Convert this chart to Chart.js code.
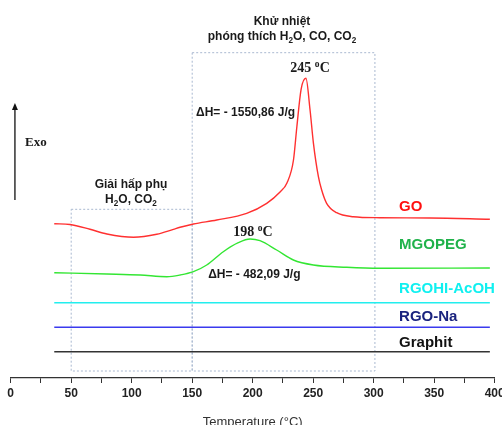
<!DOCTYPE html>
<html>
<head>
<meta charset="utf-8">
<script src="https://cdn.jsdelivr.net/npm/chart.js@4/dist/chart.umd.min.js"></script>
<style>
  html, body { margin: 0; padding: 0; background: #fff; }
  #wrap { width: 502px; height: 425px; position: relative; }
</style>
</head>
<body>
<div id="wrap"><canvas id="dsc"></canvas></div>
<script>
// --- Data (temperature in °C, signal in arbitrary offset units) ---
const goTemps = [36, 49, 65.5, 79.5, 101.5, 120.7, 134.5, 140, 151, 170.3, 195, 211.6, 222.6, 228.3, 233.7, 236.5, 240, 244, 247.4, 250.2, 254.3, 257, 261.1, 269.4, 283, 305, 346.5, 396];
const goValues = [154.3, 153.5, 148.7, 144, 140.7, 143.7, 148.7, 150.7, 154, 158, 164.7, 174.7, 186, 195, 218, 251.3, 288.7, 299.7, 268, 234.7, 201.3, 188, 174.7, 165.3, 161.3, 160.3, 160, 158.7];

const mgopegTemps = [36, 79.5, 107, 129, 140, 151, 162, 175.7, 188.1, 197.8, 206, 219.8, 233.6, 250.1, 277.7, 305, 396];
const mgopegValues = [105.3, 104, 103, 101.3, 103, 106.3, 113, 126.3, 135.3, 139, 137.3, 128, 118, 113, 110.7, 109.7, 110];

const flatTemps = [36, 396];
const rgohiValues = [75.3, 75.3];
const rgoNaValues = [50.7, 50.7];
const graphitValues = [26.3, 26.3];

const seriesNames = ['GO', 'MGOPEG', 'RGOHI-AcOH', 'RGO-Na', 'Graphit'];
const xTickStep = 25;

const SANS = '"Liberation Sans", Arial, sans-serif';
const SERIF = '"Liberation Serif", "Times New Roman", serif';

function toPoints(xs, ys) {
    return xs.map((x, i) => ({ x: x, y: ys[i] }));
}

// draw text made of parts (normal / sub / sup)
function drawRich(ctx, parts, x, y, size, family, align, color) {
    const fontFor = (p) => {
        const s = p.k ? size * 0.68 : size;
        return `bold ${s}px ${family}`;
    };
    let total = 0;
    parts.forEach(p => { ctx.font = fontFor(p); total += ctx.measureText(p.t).width; });
    let cx = align === 'center' ? x - total / 2 : x;
    ctx.fillStyle = color;
    ctx.textAlign = 'left';
    ctx.textBaseline = 'middle';
    parts.forEach(p => {
        ctx.font = fontFor(p);
        let dy = 0;
        if (p.k === 'sub') dy = size * 0.3;
        if (p.k === 'sup') dy = -size * 0.3;
        ctx.fillText(p.t, cx, y + dy);
        cx += ctx.measureText(p.t).width;
    });
}

// --- Annotations plugin: dotted boxes, texts, Exo arrow ---
const annotations = {
    id: 'annotations',
    beforeDatasetsDraw(chart) {
        const { ctx, scales: { x, y } } = chart;
        ctx.save();
        ctx.strokeStyle = '#a9b8d0';
        ctx.lineWidth = 1;
        ctx.setLineDash([2, 2]);
        const box = (t0, t1, v0, v1) => {
            const x0 = x.getPixelForValue(t0), x1 = x.getPixelForValue(t1);
            const y0 = y.getPixelForValue(v1), y1 = y.getPixelForValue(v0);
            ctx.strokeRect(x0, y0, x1 - x0, y1 - y0);
        };
        box(50, 150, 7, 168.7);
        box(150, 301, 7, 325.3);
        ctx.restore();
    },
    afterDraw(chart) {
        const { ctx, scales: { x, y } } = chart;
        const px = (t) => x.getPixelForValue(t);
        const py = (v) => y.getPixelForValue(v);
        ctx.save();
        const dark = '#1a1a1a';

        drawRich(ctx, [{ t: 'Khử nhiệt' }], px(224.2), py(356.3), 12, SANS, 'center', dark);
        drawRich(ctx, [{ t: 'phóng thích H' }, { t: '2', k: 'sub' }, { t: 'O, CO, CO' }, { t: '2', k: 'sub' }],
            px(224.2), py(341.3), 12, SANS, 'center', dark);
        drawRich(ctx, [{ t: '245 ' }, { t: 'o', k: 'sup' }, { t: 'C' }], px(247.4), py(309.7), 14, SERIF, 'center', dark);
        drawRich(ctx, [{ t: 'ΔH= - 1550,86 J/g' }], px(153.2), py(265), 12, SANS, 'left', dark);
        drawRich(ctx, [{ t: 'Giải hấp phụ' }], px(99.4), py(193), 12, SANS, 'center', dark);
        drawRich(ctx, [{ t: 'H' }, { t: '2', k: 'sub' }, { t: 'O, CO' }, { t: '2', k: 'sub' }], px(99.4), py(178), 12, SANS, 'center', dark);
        drawRich(ctx, [{ t: '198 ' }, { t: 'o', k: 'sup' }, { t: 'C' }], px(200.2), py(145.3), 14, SERIF, 'center', dark);
        drawRich(ctx, [{ t: 'ΔH= - 482,09 J/g' }], px(163.2), py(103), 12, SANS, 'left', dark);
        drawRich(ctx, [{ t: 'Exo' }], px(11.8), py(235), 13, SERIF, 'left', dark);

        // series labels
        const labelColors = ['#ff1010', '#1fb24a', '#10f0f0', '#1a237e', '#111111'];
        const labelValues = [171, 133, 89, 61.3, 35.3];
        seriesNames.forEach((name, i) => {
            drawRich(ctx, [{ t: name }], px(321), py(labelValues[i]), 15, SANS, 'left', labelColors[i]);
        });

        // Exo arrow
        const ax = px(3.5), yb = py(178), yt = py(275);
        ctx.strokeStyle = '#111';
        ctx.fillStyle = '#111';
        ctx.lineWidth = 1.3;
        ctx.beginPath();
        ctx.moveTo(ax, yb);
        ctx.lineTo(ax, yt + 4);
        ctx.stroke();
        ctx.beginPath();
        ctx.moveTo(ax, yt);
        ctx.lineTo(ax - 3, yt + 7);
        ctx.lineTo(ax + 3, yt + 7);
        ctx.closePath();
        ctx.fill();
        ctx.restore();
    }
};

const lineStyle = {
    borderWidth: 1.4,
    pointRadius: 0,
    fill: false,
    tension: 0.4,
    cubicInterpolationMode: 'monotone'
};

new Chart(document.getElementById('dsc').getContext('2d'), {
    type: 'line',
    data: {
        datasets: [
            { label: seriesNames[0], data: toPoints(goTemps, goValues), borderColor: '#ff3030', ...lineStyle },
            { label: seriesNames[1], data: toPoints(mgopegTemps, mgopegValues), borderColor: '#33e633', ...lineStyle },
            { label: seriesNames[2], data: toPoints(flatTemps, rgohiValues), borderColor: '#22eeee', ...lineStyle },
            { label: seriesNames[3], data: toPoints(flatTemps, rgoNaValues), borderColor: '#3a3aee', ...lineStyle },
            { label: seriesNames[4], data: toPoints(flatTemps, graphitValues), borderColor: '#333333', ...lineStyle }
        ]
    },
    options: {
        responsive: true,
        maintainAspectRatio: false,
        animation: false,
        layout: { padding: { left: 10.7, right: 7.3, top: 28, bottom: -5 } },
        scales: {
            x: {
                type: 'linear',
                min: 0,
                max: 400,
                afterFit: (scale) => { scale.paddingLeft = 0; scale.paddingRight = 0; },
                ticks: {
                    stepSize: xTickStep,
                    autoSkip: false,
                    maxRotation: 0,
                    padding: 3,
                    color: '#222',
                    font: { family: SANS, size: 12, weight: 'bold' },
                    callback: (v) => (v % 50 === 0 ? v : '')
                },
                grid: { drawOnChartArea: false, tickLength: 5, color: '#333' },
                border: { color: '#333', width: 1.3 },
                title: {
                    display: true,
                    text: 'Temperature (°C)',
                    color: '#333',
                    font: { family: SANS, size: 13 },
                    padding: { top: 11, bottom: 0 }
                }
            },
            y: { display: false, min: 0, max: 350 }
        },
        plugins: { legend: { display: false }, tooltip: { enabled: false } }
    },
    plugins: [annotations]
});
</script>
</body>
</html>
